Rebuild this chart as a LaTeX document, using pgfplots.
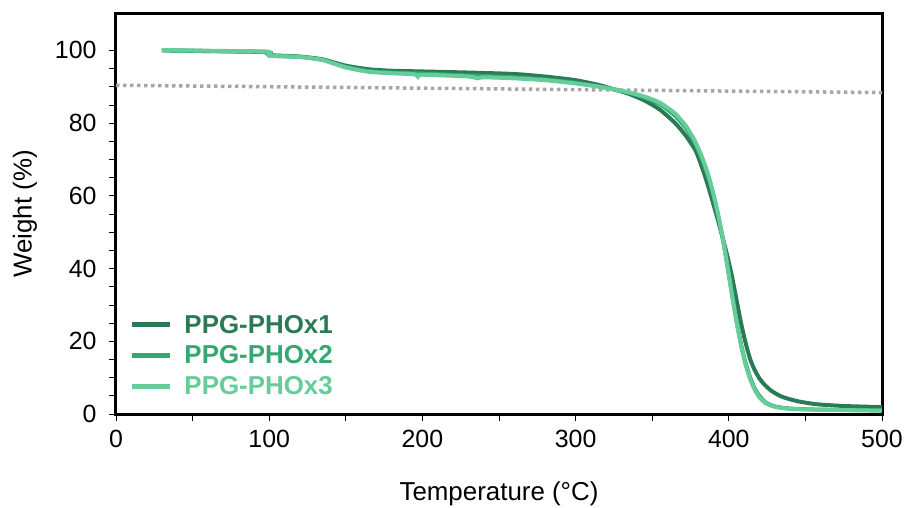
\documentclass[border=0pt]{standalone}
\usepackage{pgfplots}
\pgfplotsset{compat=1.18}
\usepackage{fontspec}
\setmainfont{Liberation Sans}
\definecolor{c1}{RGB}{42,122,85}
\definecolor{c2}{RGB}{52,168,114}
\definecolor{c3}{RGB}{102,204,153}
\definecolor{dotgrey}{RGB}{166,166,166}
\begin{document}
\begin{tikzpicture}
\path[use as bounding box] (-116bp,-94bp) rectangle (793bp,414bp);
\begin{axis}[
  at={(0,0)}, anchor=south west,
  scale only axis, width=766bp, height=400bp,
  xmin=0, xmax=500, ymin=0, ymax=110,
  xtick={0,100,...,500}, ytick={0,20,...,100},
  minor x tick num=1, minor y tick num=3,
  tick pos=left,
  tick align=outside, major tick length=7bp, minor tick length=7bp,
  tick style={line width=0.8bp, black},
  axis line style={line width=3bp, black},
  /pgf/number format/assume math mode=true,
  ticklabel style={font=\fontsize{25}{29}\selectfont},
  xticklabel style={yshift=-6bp},
  yticklabel style={xshift=-9bp},
  label style={font=\fontsize{26}{30}\selectfont},
  xlabel={Temperature (°C)}, ylabel={Weight (\%)},
  xlabel style={yshift=-27bp},
  ylabel style={yshift=11bp},
  legend style={draw=none, fill=none, at={(0.018,0.04)}, anchor=south west,
    font=\fontsize{26}{30}\selectfont\bfseries, row sep=7bp, inner sep=0pt,
    nodes={inner sep=2bp}},
  legend cell align=left,
  legend image code/.code={\draw[#1, line width=5bp] (0bp,0bp) -- (38bp,0bp);
    \path (48bp,0bp);},
]
\addplot[dotgrey, line width=3.5bp, dash pattern=on 3.5bp off 3.5bp, forget plot]
  coordinates {(0,90.4) (500,88.4)};
\addplot[c1, line width=4bp, smooth, tension=0.4] coordinates {
(30,100.0) (60,99.8) (99,99.5) (100,98.7) (120,98.3) (135,97.5) (150,95.8)
(165,94.8) (180,94.4) (200,94.2) (230,93.9) (260,93.5) (280,92.8) (300,91.8)
(315,90.5) (325,89.3) (335,88.0) (345,86.2) (355,83.7) (365,80.0) (372,76.5)
(378,72.7) (381,69.6) (384,66.0) (387,62.0) (390,57.6) (393,53.2) (396,48.5)
(399,43.5) (402,38.0) (405,31.5) (408,25.0) (411,19.5) (414,15.0) (417,12.0)
(420,9.8) (423,8.2) (428,6.3) (435,4.7) (445,3.5) (457,2.7) (475,2.2) (500,1.9)};
\addlegendentry{\textcolor{c1}{PPG-PHOx1}}
\addplot[c2, line width=4bp, smooth, tension=0.4] coordinates {
(30,100.0) (60,99.8) (99,99.6) (100,98.6) (120,98.2) (135,97.4) (150,95.5)
(165,94.3) (180,93.9) (200,93.6) (230,93.1) (260,92.6) (280,92.0) (300,91.1)
(315,90.1) (325,89.3) (335,88.3) (345,87.0) (355,85.2) (365,82.0) (372,78.6)
(377,75.2) (381,71.6) (384,68.4) (387,64.6) (390,60.0) (393,54.6) (396,48.3)
(399,41.0) (402,33.2) (405,25.8) (408,19.2) (411,14.0) (414,10.0) (417,7.0)
(420,5.0) (424,3.2) (430,2.1) (440,1.5) (460,1.2) (500,1.0)};
\addlegendentry{\textcolor{c2}{PPG-PHOx2}}
\addplot[c3, line width=4bp, smooth, tension=0.4] coordinates {
(30,100.1) (60,99.9) (99,99.6) (100,98.5) (120,98.2) (135,97.3) (150,95.3)
(165,94.1) (180,93.7) (195,93.4) (197,92.8) (200,93.3) (230,92.8) (236,92.3)
(240,92.6) (260,92.3) (280,91.8) (300,90.9) (315,90.0) (325,89.3) (335,88.4)
(345,87.3) (355,85.6) (365,82.6) (372,79.2) (377,75.8) (381,72.2) (384,69.0)
(387,65.2) (390,60.5) (393,55.0) (396,48.5) (399,41.0) (402,33.0) (405,25.5)
(408,18.8) (411,13.5) (414,9.5) (417,6.6) (420,4.6) (424,3.0) (430,2.0)
(440,1.4) (460,1.2) (500,0.9)};
\addlegendentry{\textcolor{c3}{PPG-PHOx3}}
\end{axis}
\end{tikzpicture}
\end{document}
